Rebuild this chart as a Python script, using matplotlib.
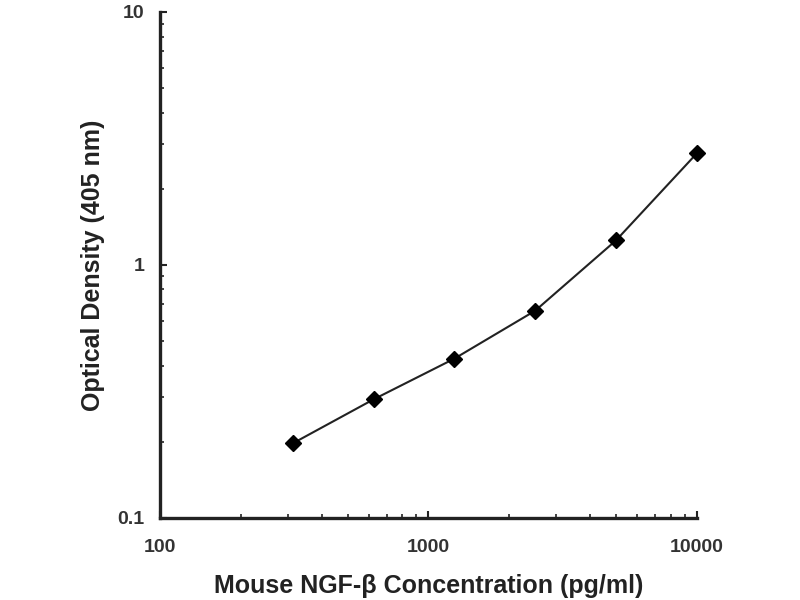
import matplotlib
matplotlib.use("Agg")
import matplotlib.pyplot as plt
from matplotlib.ticker import LogLocator, FixedLocator, NullFormatter

plt.rcParams['font.family'] = ['Liberation Sans', 'DejaVu Sans']

concentration = [312.5, 625, 1250, 2500, 5000, 10000]
optical_density = [0.197, 0.294, 0.426, 0.659, 1.25, 2.76]
x_ticks = [100, 1000, 10000]
x_tick_labels = ["100", "1000", "10000"]
y_ticks = [0.1, 1, 10]
y_tick_labels = ["0.1", "1", "10"]

fig = plt.figure(figsize=(8, 6), dpi=100)
ax = fig.add_axes([0.2, 0.137, 0.671, 0.843])

ax.plot(concentration, optical_density, color='#222222', linewidth=1.5,
        marker='D', markersize=8.5, markerfacecolor='black', markeredgecolor='black',
        clip_on=False, zorder=5)

ax.set_xscale('log')
ax.set_yscale('log')
ax.set_xlim(100, 10000)
ax.set_ylim(0.1, 10)

ax.xaxis.set_major_locator(FixedLocator(x_ticks))
ax.set_xticklabels(x_tick_labels)
ax.yaxis.set_major_locator(FixedLocator(y_ticks))
ax.set_yticklabels(y_tick_labels)
ax.xaxis.set_minor_locator(LogLocator(base=10, subs=range(2, 10)))
ax.yaxis.set_minor_locator(LogLocator(base=10, subs=range(2, 10)))
ax.xaxis.set_minor_formatter(NullFormatter())
ax.yaxis.set_minor_formatter(NullFormatter())

for s in ['top', 'right']:
    ax.spines[s].set_visible(False)
for s in ['left', 'bottom']:
    ax.spines[s].set_linewidth(2.4)
    ax.spines[s].set_color('#222222')

ax.tick_params(which='major', direction='in', length=5, width=1.5, color='#222222',
               labelsize=14, labelcolor='#333333')
ax.tick_params(axis='x', which='major', pad=15)
ax.tick_params(axis='y', which='major', pad=11)
ax.tick_params(which='minor', direction='in', length=3, width=1.2, color='#222222')
for lbl in ax.get_xticklabels() + ax.get_yticklabels():
    lbl.set_fontweight('bold')

ax.set_xlabel('Mouse NGF-β Concentration (pg/ml)', fontsize=18, fontweight='bold',
              color='#222222', labelpad=13)
ax.set_ylabel('Optical Density (405 nm)', fontsize=18, fontweight='bold',
              color='#222222', labelpad=9)

fig.savefig('out.png', dpi=100)
